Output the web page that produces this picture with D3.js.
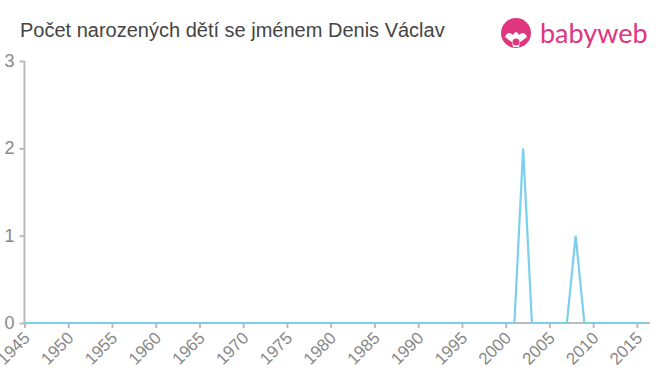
<!DOCTYPE html>
<html><head><meta charset="utf-8">
<script src="https://cdn.jsdelivr.net/npm/d3@7"></script>
<style>body{margin:0;background:#fff}svg{display:block;font-family:"Liberation Sans",Arial,sans-serif}</style>
</head><body><svg id="c" width="660" height="375"></svg>
<script>
const title = "Počet narozených dětí se jménem Denis Václav";
const years = d3.range(1945, 2017);
const counts = years.map(y => (y === 2002 ? 2 : y === 2008 ? 1 : 0));
const xTicks = d3.range(1945, 2016, 5);
const yTicks = [0, 1, 2, 3];

const svg = d3.select("#c");
const x = d3.scaleLinear().domain([1945, 2016.5]).range([24.5, 650]);
const y = d3.scaleLinear().domain([0, 3]).range([323, 61]);

svg.append("text").attr("x", 20).attr("y", 37).attr("font-size", 20).attr("fill", "#444").text(title);

// logo
const lg = svg.append("g").attr("transform", "translate(516,33)");
lg.append("circle").attr("r", 15).attr("fill", "#e0357f");
lg.append("path").attr("d", "M-11,4 Q-8,-3 -3,2 Q0,-4 3,2 Q8,-3 11,4 Q6,8 4,9 L3,14 L-3,14 L-4,9 Q-6,8 -11,4Z").attr("fill", "#fff");
lg.append("circle").attr("cx", 0).attr("cy", 9).attr("r", 3.5).attr("fill", "#e0357f");
lg.append("text").attr("x", 24).attr("y", 10).attr("font-size", 27).attr("fill", "#e0357f")
  .attr("font-family", "Lato, 'Open Sans', sans-serif").text("babyweb");

// axes
const ya = svg.append("g").attr("transform", "translate(24.5,0)")
  .call(d3.axisLeft(y).tickValues(yTicks).tickSize(5).tickPadding(5).tickFormat(d3.format("d")));
ya.select(".domain").attr("stroke", "#bbb").attr("stroke-width", 2).attr("d", "M0,61V323");
ya.selectAll(".tick line").attr("stroke", "#bbb").attr("stroke-width", 2);
ya.selectAll(".tick text").attr("fill", "#888").attr("font-size", 18).attr("font-family", "Liberation Sans, Arial, sans-serif").attr("dy", "0.3em");

const xa = svg.append("g").attr("transform", "translate(0,323)")
  .call(d3.axisBottom(x).tickValues(xTicks).tickSize(5).tickFormat(d3.format("d")));
xa.select(".domain").attr("stroke", "#bbb").attr("stroke-width", 2).attr("d", "M24.5,0H650");
xa.selectAll(".tick line").attr("stroke", "#bbb").attr("stroke-width", 2);
xa.selectAll(".tick text").attr("fill", "#888").attr("font-size", 17).attr("font-family", "Liberation Sans, Arial, sans-serif")
  .attr("text-anchor", "end").attr("dx", 0).attr("dy", 0).attr("y", 0)
  .attr("transform", "translate(6,16) rotate(-45)");

const line = d3.line().x((d, i) => x(years[i])).y(d => y(d));
svg.append("path").datum(counts).attr("d", line).attr("fill", "none")
  .attr("stroke", "#7ccfee").attr("stroke-width", 2.2).attr("stroke-linejoin", "miter");
</script></body></html>
